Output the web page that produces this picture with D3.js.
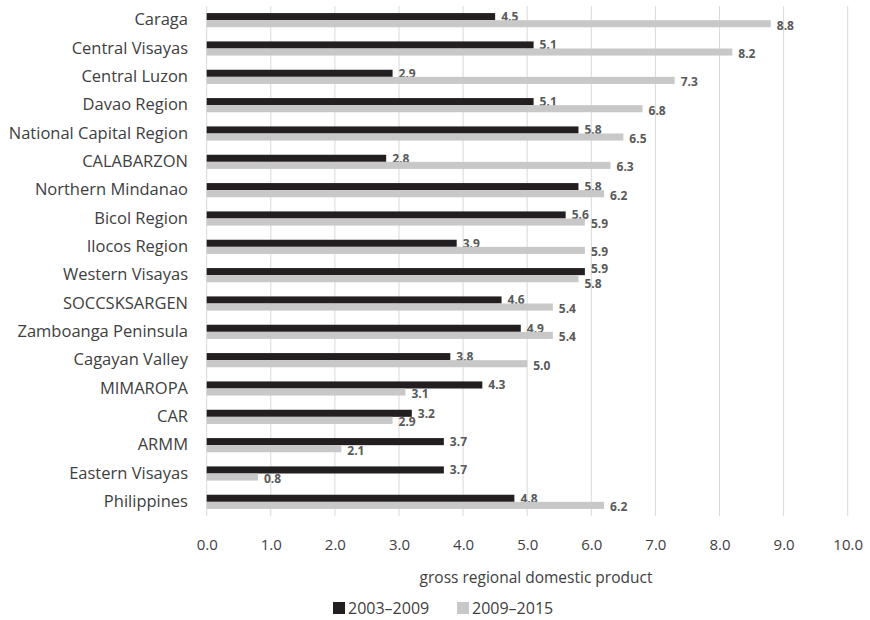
<!DOCTYPE html>
<html>
<head>
<meta charset="utf-8">
<script src="https://cdn.jsdelivr.net/npm/d3@7"></script>
<style>
  html, body { margin: 0; padding: 0; background: #fff; }
  svg { display: block; font-family: "Open Sans", "Noto Sans", sans-serif; }
</style>
</head>
<body>
<svg id="chart" width="870" height="620"></svg>
<script>
// Regions, top to bottom
const regions = [
  "Caraga", "Central Visayas", "Central Luzon", "Davao Region",
  "National Capital Region", "CALABARZON", "Northern Mindanao", "Bicol Region",
  "Ilocos Region", "Western Visayas", "SOCCSKSARGEN", "Zamboanga Peninsula",
  "Cagayan Valley", "MIMAROPA", "CAR", "ARMM", "Eastern Visayas", "Philippines"
];
// Average GRDP growth, 2003–2009
const growth2003_2009 = [4.5, 5.1, 2.9, 5.1, 5.8, 2.8, 5.8, 5.6, 3.9, 5.9, 4.6, 4.9, 3.8, 4.3, 3.2, 3.7, 3.7, 4.8];
// Average GRDP growth, 2009–2015
const growth2009_2015 = [8.8, 8.2, 7.3, 6.8, 6.5, 6.3, 6.2, 5.9, 5.9, 5.8, 5.4, 5.4, 5.0, 3.1, 2.9, 2.1, 0.8, 6.2];
const seriesNames = ["2003–2009", "2009–2015"];
const xTicks = [0, 1, 2, 3, 4, 5, 6, 7, 8, 9, 10];

const colors = ["#231f20", "#c8c8c8"];
const textColor = "#404040";
const svg = d3.select("#chart");

const x = d3.scaleLinear().domain([0, 10]).range([206.7, 847.7]);
const y = d3.scaleBand().domain(regions).range([6, 516]).paddingInner(0.5).paddingOuter(0.25);
const sub = d3.scaleBand().domain([0, 1]).range([0, y.bandwidth()]);

// vertical gridlines
svg.append("g").selectAll("line").data(xTicks).join("line")
  .attr("x1", d => x(d)).attr("x2", d => x(d))
  .attr("y1", 6).attr("y2", 516)
  .attr("stroke", "#d9d9d9").attr("stroke-width", 1);

// x axis tick labels
const xAxis = d3.axisBottom(x).tickValues(xTicks).tickFormat(d3.format(".1f")).tickSize(0).tickPadding(0);
const gx = svg.append("g").attr("transform", "translate(0,544)").call(xAxis);
gx.select(".domain").remove();
gx.selectAll("text").attr("dy", null).attr("dominant-baseline", "central")
  .attr("fill", textColor).attr("font-size", 15).attr("font-family", "\"Open Sans\", sans-serif");

// category labels
const yAxis = d3.axisLeft(y).tickSize(0).tickPadding(0);
const gy = svg.append("g").attr("transform", "translate(188,0)").call(yAxis);
gy.select(".domain").remove();
gy.selectAll("text").attr("fill", textColor).attr("font-size", 16.5).attr("font-family", "\"Open Sans\", sans-serif");

// bars and value labels; when both labels of a row end up at nearly the
// same x, they are pushed apart vertically
const series = [growth2003_2009, growth2009_2015];
series.forEach((vals, si) => {
  const g = svg.append("g");
  g.selectAll("rect").data(vals).join("rect")
    .attr("x", x(0))
    .attr("y", (d, i) => y(regions[i]) + sub(si))
    .attr("width", d => x(d) - x(0))
    .attr("height", sub.bandwidth())
    .attr("fill", colors[si]);
  g.selectAll("text").data(vals).join("text")
    .attr("x", d => x(d) + 6)
    .attr("y", (d, i) => {
      const close = Math.abs(x(growth2003_2009[i]) - x(growth2009_2015[i])) < 12;
      const shift = si === 0 ? (close ? -3.5 : 0) : (close ? 4.5 : 1.5);
      return y(regions[i]) + sub(si) + sub.bandwidth() / 2 + shift;
    })
    .attr("dominant-baseline", "central")
    .attr("font-size", 12)
    .attr("font-weight", "bold")
    .attr("fill", "#595959")
    .text(d => d3.format(".1f")(d));
});

// axis title
svg.append("text")
  .attr("x", 536).attr("y", 577)
  .attr("text-anchor", "middle").attr("dominant-baseline", "central")
  .attr("font-size", 15.5).attr("fill", textColor)
  .text("gross regional domestic product");

// legend
const legend = svg.append("g").attr("transform", "translate(333,608)");
const lx = [0, 124];
seriesNames.forEach((name, i) => {
  legend.append("rect").attr("x", lx[i]).attr("y", -6).attr("width", 12).attr("height", 12).attr("fill", colors[i]);
  legend.append("text").attr("x", lx[i] + 15).attr("y", 0)
    .attr("dominant-baseline", "central").attr("font-size", 16).attr("fill", textColor)
    .text(name);
});
</script>
</body>
</html>
